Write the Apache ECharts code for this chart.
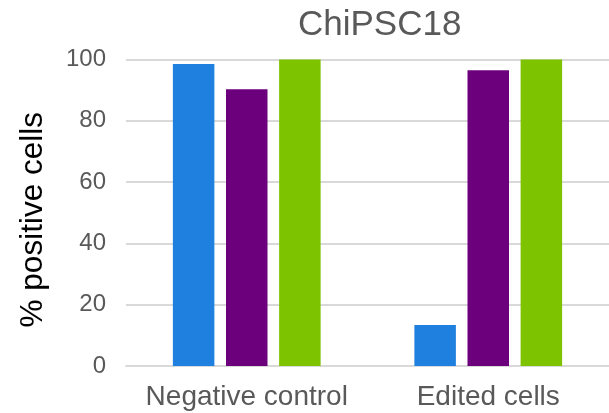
<!DOCTYPE html>
<html>
<head>
<meta charset="utf-8">
<script src="https://cdn.jsdelivr.net/npm/echarts@6/dist/echarts.min.js"></script>
<style>
  html, body { margin: 0; padding: 0; background: #ffffff; }
  #chart { width: 609px; height: 413px; }
</style>
</head>
<body>
<div id="chart"></div>
<script>
// Percentage of positive cells per sample group, three markers per group
const categories = ['Negative control', 'Edited cells'];
const blueValues = [98.5, 13.4];
const purpleValues = [90.3, 96.5];
const greenValues = [100, 100];
const yTicks = { min: 0, max: 100, interval: 20 };

const textColor = '#595959';
const font = 'Liberation Sans, Arial, sans-serif';

const chart = echarts.init(document.getElementById('chart'), null, { renderer: 'canvas' });

function barSeries(values, color) {
  return {
    type: 'bar',
    data: values,
    barWidth: 41.5,
    barGap: '28%',
    itemStyle: { color: color },
    silent: true
  };
}

chart.setOption({
  animation: false,
  backgroundColor: '#ffffff',
  title: {
    text: 'ChiPSC18',
    left: 293,
    top: 3,
    textStyle: { fontFamily: font, fontSize: 35, fontWeight: 'normal', color: textColor }
  },
  grid: { left: 126, right: 0, top: 59.5, bottom: 47, containLabel: false },
  xAxis: {
    type: 'category',
    data: categories,
    axisLine: { show: true, lineStyle: { color: '#d9d9d9', width: 2 } },
    axisTick: { show: false },
    axisLabel: { interval: 0, fontFamily: font, fontSize: 28, color: textColor, margin: 17 }
  },
  yAxis: {
    type: 'value',
    min: yTicks.min,
    max: yTicks.max,
    interval: yTicks.interval,
    name: '% positive cells',
    nameLocation: 'middle',
    nameRotate: 90,
    nameGap: 77,
    nameTextStyle: { fontFamily: font, fontSize: 31.5, color: '#000000', padding: [0, 14, 0, 0] },
    axisLine: { show: false },
    axisTick: { show: false },
    axisLabel: { fontFamily: font, fontSize: 24, color: textColor, margin: 20 },
    splitLine: { lineStyle: { color: '#d9d9d9', width: 2 } }
  },
  series: [
    barSeries(blueValues, '#1f80df'),
    barSeries(purpleValues, '#6c007c'),
    barSeries(greenValues, '#7dc300')
  ]
});
</script>
</body>
</html>
